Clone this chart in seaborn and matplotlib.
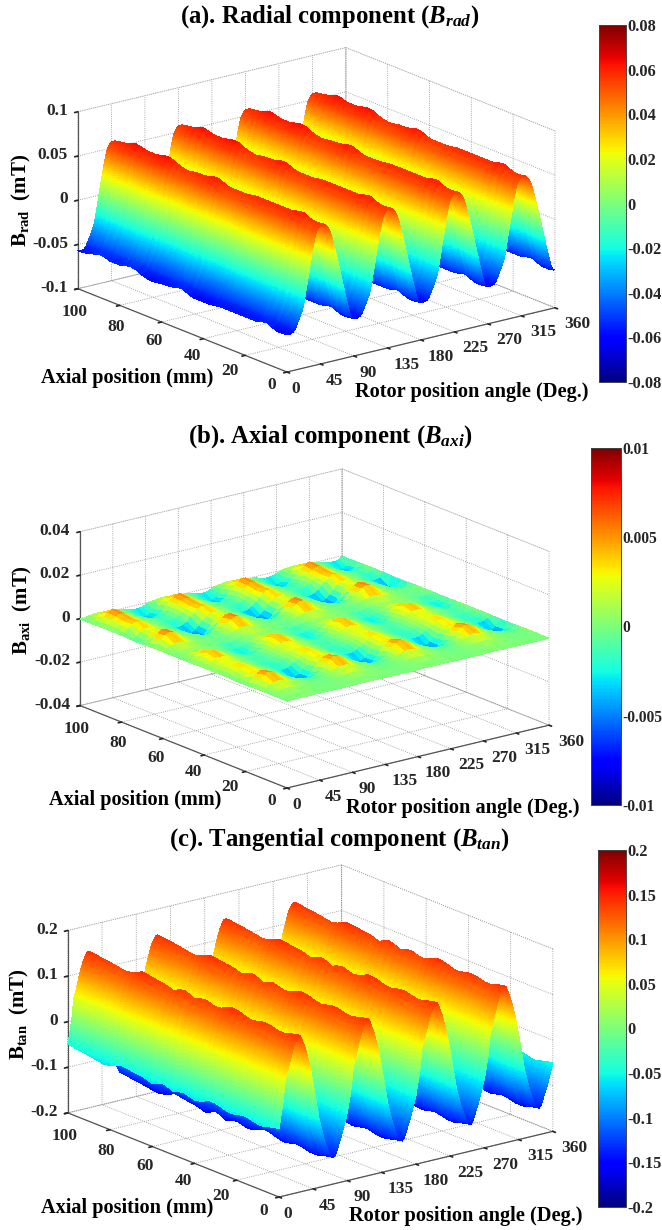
import numpy as np
import matplotlib
matplotlib.use("Agg")
import matplotlib.pyplot as plt
from matplotlib.transforms import ScaledTranslation
import seaborn as sns
from mpl_toolkits.mplot3d import proj3d

# Field values, in 1e-3 mT unless noted
angle_ticks = [0, 45, 90, 135, 180, 225, 270, 315, 360]
axial_ticks = [0, 20, 40, 60, 80, 100]

# one 90 degree pole cycle at 0.5 degree steps, ten degrees per line
rad_cycle = [-57, -57.5, -58, -58, -58, -58, -58, -58, -58, -58, -58, -58, -58, -57.5, -57, -57, -57, -56.5, -56, -55.5,
             -55, -54.5, -54, -53, -52, -51, -50, -49, -48, -47, -46, -45, -44, -43, -42, -41, -40, -39, -38, -37,
             -36, -34.5, -33, -31.5, -30, -28, -26, -23.5, -21, -18.5, -16, -13.5, -11, -8.5, -6, -3.5, -1, 1.5, 4, 6.5,
             9, 11.5, 14, 16.5, 19, 21.5, 24, 26.5, 29, 31.5, 34, 36, 38, 40, 42, 44, 46, 47.5, 49, 50,
             51, 52, 53, 53.5, 54, 54.5, 55, 55.5, 56, 56, 56, 56.5, 57, 57, 57, 57, 57, 57, 57, 57,
             57, 56.5, 56, 55.5, 55, 54.5, 54, 53.5, 53, 52.5, 52, 51.5, 51, 50, 49, 48, 47, 45.5, 44, 42.5,
             41, 39.5, 38, 36, 34, 32.5, 31, 29, 27, 25, 23, 21.5, 20, 18, 16, 14.5, 13, 11, 9, 7,
             5, 3, 1, -1, -3, -5, -7, -9, -11, -13, -15, -17, -19, -21, -23, -25, -27, -29, -31, -32.5,
             -34, -36, -38, -40, -42, -43.5, -45, -47, -49, -50.5, -52, -53, -54, -55, -56, -56.5, -57, -57, -57, -57]
tan_cycle = [-50, -45, -40, -35, -30, -25, -20, -15, -10, -5, 0, 8, 17, 25, 34, 42, 50, 53, 56, 58.5,
             61, 63.5, 66, 70, 74, 77.5, 81, 84.5, 88, 91.5, 95, 98, 101, 104, 107, 110, 113, 116, 119, 122,
             125, 126.5, 128, 129.5, 131, 133, 135, 136.5, 138, 139.5, 141, 141.5, 142, 142.5, 143, 143, 143, 141, 139, 137,
             135, 132.5, 130, 127.5, 125, 122.5, 120, 117.5, 115, 112.5, 110, 106.5, 103, 99.5, 96, 93, 90, 86.5, 83, 79.5,
             76, 72.5, 69, 64, 59, 54, 49, 44, 39, 34.5, 30, 25, 20, 15, 10, 5, 0, -5, -10, -15.5,
             -21, -26, -31, -36.5, -42, -47, -52, -55.5, -59, -62.5, -66, -69.5, -73, -76.5, -80, -83.5, -87, -90.5, -94, -97,
             -100, -102.5, -105, -107.5, -110, -112.5, -115, -117.5, -120, -122.5, -125, -127.5, -130, -131.5, -133, -134.5, -136, -137.5, -139, -139.5,
             -140, -140.5, -141, -141.5, -142, -141, -140, -139, -138, -136.5, -135, -132.5, -130, -127.5, -125, -122.5, -120, -117.5, -115, -112.5,
             -110, -107.5, -105, -102.5, -100, -97, -94, -91, -88, -84.5, -81, -78, -75, -72, -69, -66, -63, -59.5, -56, -53]

# ripple along the axial direction at 2.5 mm steps
rad_ripple = [0, -1, -1, 1, 4, 3, 1, 1, 1, 1, 1, 1, 1, 1, 0, -1, -1, -1, -1, 1, 4,
              4, 2, 1, 1, 0, -1, 0, 2, 5, 6, 5, 3, 3, 3, 5, 6, 4, 2, 1, 0]
tan_ripple = [0, -2, -5, -9, -9, -6, -3, -3, -6, -9, -7, -3, 0, 1, -4, -9, -11, -8, -4, -7, -12,
              -6, -2, -6, -12, -8, -5, -4, -2, 0, 1, -4, -9, -12, -10, -8, -6, -4, -3, -1, 0]

# axial component, one cycle at 5 degree steps (columns), 4 mm steps (rows, 0 to 100 mm), in 1e-4 mT
axi_cycle = [
    [0, 1, 1, 1, 1, 1, 1, 1, 1, 0, 0, 0, 0, 0, 0, 0, 0, 0],
    [1, 2, 2, 3, 4, 4, 3, 2, 2, 1, 1, 0, 0, -1, -1, -1, 0, 1],
    [3, 4, 6, 8, 10, 10, 8, 6, 4, 3, 1, 0, -1, -2, -2, -2, -1, 1],
    [5, 11, 18, 25, 30, 29, 24, 17, 11, 6, 3, 0, -2, -3, -4, -4, -2, 1],
    [2, 16, 32, 46, 55, 54, 45, 31, 19, 10, 3, -1, -5, -10, -15, -18, -16, -10],
    [-16, 4, 22, 37, 46, 45, 37, 26, 16, 8, 2, -4, -13, -25, -37, -46, -45, -33],
    [-19, -3, 11, 21, 27, 26, 22, 16, 10, 5, 0, -5, -13, -25, -37, -46, -45, -35],
    [-3, 7, 19, 28, 35, 34, 28, 20, 12, 7, 1, -3, -9, -15, -21, -23, -21, -13],
    [3, 12, 21, 29, 34, 33, 27, 19, 12, 5, 0, -5, -12, -16, -18, -16, -14, -3],
    [2, 8, 14, 18, 22, 22, 18, 13, 8, 4, -1, -6, -12, -16, -18, -16, -12, -4],
    [6, 13, 20, 28, 33, 32, 27, 19, 12, 6, 2, -1, -5, -8, -10, -9, -7, -1],
    [2, 15, 27, 39, 48, 47, 39, 27, 16, 9, 3, -1, -5, -9, -13, -15, -14, -7],
    [-9, 4, 16, 26, 32, 31, 26, 18, 11, 6, 2, -2, -9, -16, -24, -30, -28, -20],
    [-9, -2, 5, 9, 12, 12, 10, 7, 5, 3, 0, -2, -7, -13, -19, -23, -23, -17],
    [-2, 2, 4, 7, 8, 8, 7, 5, 4, 2, 1, -1, -3, -5, -7, -9, -8, -5],
    [4, 10, 15, 20, 24, 23, 19, 14, 9, 5, 2, 0, -1, -2, -3, -3, -2, 1],
    [7, 18, 31, 45, 55, 54, 44, 31, 19, 10, 4, 1, -1, -3, -3, -4, -3, 0],
    [-12, 3, 21, 40, 52, 53, 44, 31, 19, 10, 4, 1, -2, -5, -9, -15, -19, -20],
    [-44, -27, -7, 11, 24, 26, 23, 17, 10, 6, 3, -1, -4, -9, -19, -33, -43, -48],
    [-37, -22, -2, 15, 27, 28, 25, 18, 11, 6, 3, -2, -6, -13, -23, -35, -44, -45],
    [-13, 3, 19, 34, 44, 44, 36, 25, 15, 8, 3, -1, -7, -13, -20, -27, -29, -23],
    [1, 12, 22, 33, 40, 39, 32, 23, 14, 7, 3, 0, -4, -8, -12, -15, -13, -8],
    [3, 15, 28, 40, 49, 48, 39, 28, 17, 9, 4, 0, -4, -8, -11, -14, -12, -6],
    [-6, 12, 29, 43, 54, 53, 43, 30, 18, 10, 3, -2, -9, -17, -25, -31, -29, -20],
    [-15, 0, 13, 22, 29, 28, 23, 17, 10, 6, 1, -4, -11, -21, -32, -39, -38, -29],
    [-8, -3, 2, 4, 7, 7, 5, 4, 2, 2, 0, -2, -5, -10, -15, -18, -18, -15],
]
# the surface is calmer along its angle=0 and angle=5 edges, 1e-4 mT
axi_edge_0 = [0, 0, 1, 1, 0, -2, -2, 0, 1, 1, 1, 0, -1, -1, 0, 0, 0, -2, -4, -3, -1, 0, 0, -1, -2, -1]
axi_edge_5 = [1, 2, 4, 8, 10, 3, -2, 5, 8, 6, 9, 10, 3, -2, 2, 7, 12, 2, -9, -7, 2, 8, 10, 8, 0, -2]

rad_ticks = [-0.1, -0.05, 0, 0.05, 0.1]
axi_ticks = [-0.04, -0.02, 0, 0.02, 0.04]
tan_ticks = [-0.2, -0.1, 0, 0.1, 0.2]
rad_bar_ticks = [-0.08, -0.06, -0.04, -0.02, 0, 0.02, 0.04, 0.06, 0.08]
axi_bar_ticks = [-0.01, -0.005, 0, 0.005, 0.01]
tan_bar_ticks = [-0.2, -0.15, -0.1, -0.05, 0, 0.05, 0.1, 0.15, 0.2]

sns.set_theme(style="white", rc={"grid.linestyle": ":", "grid.color": "#8c8c8c", "grid.linewidth": 0.6})
plt.rcParams["font.family"] = ["Liberation Serif"]
plt.rcParams["font.weight"] = "bold"
plt.rcParams["mathtext.fontset"] = "custom"
plt.rcParams["mathtext.rm"] = "Liberation Serif:bold"
plt.rcParams["mathtext.bf"] = "Liberation Serif:bold"
plt.rcParams["mathtext.it"] = "Liberation Serif:italic:bold"

W, H = 662, 1230
fig = plt.figure(figsize=(W / 100, H / 100), dpi=100)
# seaborn refuses to hand out jet, so take it from matplotlib
jet = plt.get_cmap("jet")


def corner(ax, x, y, z):
    xp, yp, _ = proj3d.proj_transform(x, y, z, ax.get_proj())
    return ax.transData.transform((xp, yp))


def fit_box(ax, near, right, z0):
    # move the square 3d axes until the floor corners land on the wanted pixels
    near = np.array([near[0], H - near[1]], dtype=float)
    right = np.array([right[0], H - right[1]], dtype=float)
    size, cx, cy = 600.0, W / 2, near[1] + 200
    for _ in range(3):
        ax.set_position([(cx - size / 2) / W, (cy - size / 2) / H, size / W, size / H])
        ax.apply_aspect()
        a = corner(ax, 0, 0, z0)
        b = corner(ax, 360, 0, z0)
        ratio = np.linalg.norm(right - near) / np.linalg.norm(b - a)
        size *= ratio
        cx = near[0] + (cx - a[0]) * ratio
        cy = near[1] + (cy - a[1]) * ratio
    ax.set_position([(cx - size / 2) / W, (cy - size / 2) / H, size / W, size / H])


def shift_labels(ax, axis, dx, dy, step_x=0, step_y=0):
    # nudge tick labels in pixels, the source packs them tighter than its ticks
    # Axis3D resets label transforms on every get_major_ticks, so block that
    for i, tick in enumerate(axis.get_major_ticks()):
        off = ScaledTranslation((dx + i * step_x) / 100, (dy + i * step_y) / 100, fig.dpi_scale_trans)
        tick.label1.set_transform(ax.transData + off)
        tick.label1.set_transform = lambda t: None


def draw_panel(angle, axial, field, zticks, zlabels, clim, bar_ticks, bar_labels, box, near, right, bar, bar_size=11.8):
    ax = fig.add_axes([0.1, 0.1, 0.5, 0.2], projection="3d", proj_type="ortho")
    ax.set_facecolor((1, 1, 1, 0))
    ax.view_init(elev=18, azim=-127.8)
    ax.set_box_aspect(box)
    ax.set_xlim(0, 360)
    ax.set_ylim(0, 100)
    ax.set_zlim(zticks[0], zticks[-1])
    fit_box(ax, near, right, zticks[0])

    X, Y = np.meshgrid(angle, axial)
    ax.plot_surface(X, Y, field, rstride=1, cstride=1, cmap=jet, vmin=-clim, vmax=clim,
                    linewidth=0, antialiased=False, shade=False)

    ax.set_xticks(angle_ticks)
    ax.set_yticks(axial_ticks)
    ax.set_zticks(zticks)
    ax.set_xticklabels([str(t) for t in angle_ticks], fontsize=12.5, ha="left", va="center")
    ax.set_yticklabels([str(t) for t in axial_ticks], fontsize=12.5, ha="right", va="center")
    ax.set_zticklabels(zlabels, fontsize=12.5, ha="right", va="center")
    ax.tick_params(axis="x", pad=4)
    ax.tick_params(axis="y", pad=4)
    ax.tick_params(axis="z", pad=1)
    shift_labels(ax, ax.xaxis, -8.5, 0, 0.5, 0)
    shift_labels(ax, ax.yaxis, 6.5, 2, 4, -2)
    shift_labels(ax, ax.zaxis, 13, 0)
    for axis in (ax.xaxis, ax.yaxis, ax.zaxis):
        axis.pane.set_facecolor("white")
        axis.pane.set_edgecolor("#8c8c8c")
        axis.pane.set_linestyle(":")
        axis.pane.set_linewidth(0.6)
        axis.line.set_color("#555555")
        axis.line.set_linewidth(0.9)
        axis._axinfo["tick"].update(inward_factor=0.15, outward_factor=0.0, color="#555555")

    # colour bar
    cax = fig.add_axes([bar[0] / W, 1 - bar[3] / H, (bar[1] - bar[0]) / W, (bar[3] - bar[2]) / H])
    sm = plt.cm.ScalarMappable(cmap=jet, norm=plt.Normalize(-clim, clim))
    cb = fig.colorbar(sm, cax=cax, ticks=bar_ticks)
    cb.set_ticklabels(bar_labels)
    cax.tick_params(direction="in", left=True, right=True, length=3, width=0.6, pad=1,
                    labelsize=bar_size, color="#333333")
    cb.outline.set_linewidth(0.7)
    cb.outline.set_edgecolor("#444444")
    return ax


def ftext(x, y, s, size, rotation=0):
    fig.text(x / W, 1 - y / H, s, fontsize=size, fontweight="bold", ha="center", va="center",
             rotation=rotation, color="black")


angle_half = np.arange(0, 360.5, 0.5)
axial_fine = np.arange(0, 101, 2.5)
angle_5deg = np.arange(0, 361, 5)
axial_4mm = np.arange(0, 101, 4)

# the cycle repeats for each of the four poles, closed with its first sample
rad_wave = np.append(np.tile(rad_cycle, 4), rad_cycle[0])
tan_wave = np.append(np.tile(tan_cycle, 4), tan_cycle[0])
axi_table = np.array(axi_cycle)
axi_grid = np.hstack([axi_table] * 4 + [axi_table[:, :1]]).astype(float)
axi_grid[:, 0] = axi_edge_0
axi_grid[:, 1] = axi_edge_5
axi_grid[:, -1] = axi_edge_0
axi_grid = axi_grid * 1e-4
rad_grid = np.add.outer(rad_ripple, rad_wave) * 1e-3
tan_grid = np.add.outer(tan_ripple, tan_wave) * 1e-3

draw_panel(angle_half, axial_fine, rad_grid, rad_ticks, ["-0.1", "-0.05", "0", "0.05", "0.1"], 0.08,
           rad_bar_ticks, ["-0.08", "-0.06", "-0.04", "-0.02", "0", "0.02", "0.04", "0.06", "0.08"],
           (339, 341, 186), (287, 372), (555, 308), (599, 625.5, 25, 382))
draw_panel(angle_5deg, axial_4mm, axi_grid, axi_ticks, ["-0.04", "-0.02", "0", "0.02", "0.04"], 0.01,
           axi_bar_ticks, ["-0.01", "-0.005", "0", "0.005", "0.01"],
           (332, 338, 183), (287, 788), (549, 725), (591, 620.5, 448, 805), bar_size=11.2)
draw_panel(angle_half, axial_fine, tan_grid, tan_ticks, ["-0.2", "-0.1", "0", "0.1", "0.2"], 0.2,
           tan_bar_ticks, ["-0.2", "-0.15", "-0.1", "-0.05", "0", "0.05", "0.1", "0.15", "0.2"],
           (347, 345, 192), (279, 1197), (553, 1132), (598, 626, 850, 1207))

ftext(330, 17, r"(a). Radial component ($B_{rad}$)", 17.8)
ftext(330, 437, r"(b). Axial component ($B_{axi}$)", 17.8)
ftext(339, 840, r"(c). Tangential component ($B_{tan}$)", 17.8)

for x, y, s in [(21, 200, r"$\mathbf{B_{rad}}$  (mT)"), (22, 610, r"$\mathbf{B_{axi}}$  (mT)"),
                (19, 1014, r"$\mathbf{B_{tan}}$  (mT)")]:
    ftext(x, y, s, 15, rotation=90)

for x, y in [(127, 378), (135, 800), (127, 1208)]:
    ftext(x, y, "Axial position (mm)", 14.6)
for x, y in [(472, 392), (463, 808), (466, 1216)]:
    ftext(x, y, "Rotor position angle (Deg.)", 14.7)

fig.savefig("out.png", dpi=100)
